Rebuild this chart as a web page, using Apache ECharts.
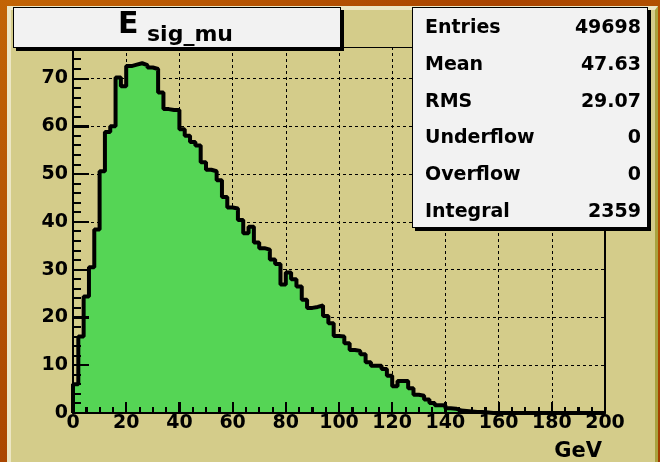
<!DOCTYPE html>
<html>
<head>
<meta charset="utf-8">
<script src="https://cdn.jsdelivr.net/npm/echarts@6/dist/echarts.min.js"></script>
<style>
  html, body { margin: 0; padding: 0; }
  #wrap {
    position: relative; width: 660px; height: 462px; overflow: hidden;
    background: linear-gradient(135deg, #c26405 0%, #a94400 45%, #b85a02 70%, #a13d00 100%);
    font-family: "DejaVu Sans", sans-serif; font-weight: bold; color: #000;
  }
  /* pad with bevelled border */
  #pad {
    position: absolute; left: 7px; top: 6px; width: 644px; height: 452px;
    background: #d4cc8a;
    border-left: 4px solid #ece6c4; border-top: 4px solid #ece6c4;
    border-right: 3px solid #a9a23e; border-bottom: 3px solid #a9a23e;
  }
  #chart { position: absolute; left: 0; top: 0; width: 660px; height: 462px; }
  .pave {
    position: absolute; box-sizing: border-box; background: #f2f2f2;
    border: 1px solid #000; box-shadow: 3px 3px 0 #000;
  }
  #titleBox { left: 13px; top: 7px; width: 328px; height: 41px; }
  #statsBox { left: 412px; top: 7px; width: 236px; height: 221px; }
  .txt { position: absolute; white-space: nowrap; }
  #tMain { left: 118px; top: 8px; font-size: 30px; line-height: 30px; }
  #tSub { left: 147px; top: 23px; font-size: 22px; line-height: 22px; }
  .statName, .statVal { font-size: 19px; line-height: 20px; height: 20px; }
  .statName { left: 425px; }
  .statVal { right: 19px; text-align: right; }
</style>
</head>
<body>
<div id="wrap">
  <div id="pad"></div>
  <div id="chart"></div>
  <div class="pave" id="titleBox"></div>
  <div class="txt" id="tMain"></div>
  <div class="txt" id="tSub"></div>
  <div class="pave" id="statsBox"></div>
</div>
<script>
// Histogram binning: 100 bins of 2 GeV from 0 to 200 GeV
const binLow = 0;
const binWidth = 2;
const counts = [
  6.0, 16.0, 24.4, 30.5, 38.4, 50.6, 58.8, 60.0, 70.2, 68.4,
  72.6, 72.9, 73.2, 72.8, 72.3, 72.0, 67.1, 63.6, 63.4, 63.4,
  59.4, 58.0, 56.7, 56.0, 52.5, 50.9, 50.6, 48.7, 45.2, 43.0,
  42.8, 40.4, 37.6, 39.0, 35.7, 34.5, 34.2, 32.1, 31.2, 26.9,
  29.4, 28.0, 26.5, 23.7, 22.0, 22.2, 22.5, 20.3, 18.8, 16.1,
  16.0, 14.6, 13.2, 13.0, 12.3, 10.6, 9.9, 9.9, 9.2, 7.8,
  5.6, 6.7, 6.7, 5.2, 3.8, 3.6, 2.8, 2.1, 1.6, 1.6,
  1.0, 0.9, 0.5, 0.4, 0.3, 0.2, 0.2, 0.1, 0, 0,
  0, 0, 0, 0, 0, 0, 0, 0, 0, 0,
  0, 0, 0, 0, 0, 0, 0, 0, 0, 0
];

// Axis ranges and tick spacing
const xMin = 0, xMax = 200, xMajor = 20, xMinor = 5;
const yMin = 0, yMax = 76.6, yMajor = 10, yMinor = 2;

// Title and statistics box contents
const titleMain = 'E';
const titleSub = 'sig_mu';
const xUnit = 'GeV';
const statNames = ['Entries', 'Mean', 'RMS', 'Underflow', 'Overflow', 'Integral'];
const statValues = ['49698', '47.63', '29.07', '0', '0', '2359'];

const FONT = 'DejaVu Sans';
const BLACK = '#000';

// Title text and statistics rows
document.getElementById('tMain').textContent = titleMain;
document.getElementById('tSub').textContent = titleSub;
const wrap = document.getElementById('wrap');
statNames.forEach((name, i) => {
  const top = Math.round(26 + i * 36.8 - 10);
  const n = document.createElement('div');
  n.className = 'txt statName';
  n.style.top = top + 'px';
  n.textContent = name;
  const v = document.createElement('div');
  v.className = 'txt statVal';
  v.style.top = top + 'px';
  v.textContent = statValues[i];
  wrap.appendChild(n);
  wrap.appendChild(v);
});

// Step outline: one point per bin low edge, closing at the last edge
const stepData = [[binLow, 0]];
counts.forEach((c, i) => stepData.push([binLow + i * binWidth, c]));
stepData.push([binLow + counts.length * binWidth, counts[counts.length - 1]]);

// Inward tick marks drawn over the filled histogram: [axis (0 = x, 1 = y), value, isMajor]
const tickMarks = [];
for (let v = xMin; v <= xMax; v += xMinor) tickMarks.push([0, v, v % xMajor === 0 ? 1 : 0]);
for (let v = yMin; v < yMax; v += yMinor) tickMarks.push([1, v, v % yMajor === 0 ? 1 : 0]);

const chart = echarts.init(document.getElementById('chart'), null, { renderer: 'canvas' });

const labelFont = { color: BLACK, fontFamily: FONT, fontWeight: 'bold', fontSize: 19 };
const dashed = { color: BLACK, width: 1, type: [3, 3] };
const hidden = { axisLabel: { show: false }, splitLine: { show: false } };

const option = {
  animation: false,
  backgroundColor: 'transparent',
  grid: { left: 73, right: 55, top: 47, bottom: 48 },
  xAxis: [
    { // labels and grid lines, beneath the histogram
      type: 'value', min: xMin, max: xMax, interval: xMajor, z: 0,
      axisLine: { show: false },
      axisTick: { show: false },
      axisLabel: Object.assign({ margin: 1 }, labelFont),
      splitLine: { show: true, lineStyle: dashed },
      name: xUnit, nameLocation: 'end', nameGap: -3,
      nameTextStyle: Object.assign({}, labelFont, { fontSize: 21, align: 'right',
                       verticalAlign: 'top', padding: [28, 0, 0, 0] })
    },
    Object.assign({ // bottom axis line with inward ticks
      type: 'value', min: xMin, max: xMax, interval: xMajor, z: 10, position: 'bottom',
      axisLine: { show: true, onZero: false, lineStyle: { color: BLACK, width: 2 } },
      axisTick: { show: true, inside: true, length: 11, lineStyle: { color: BLACK, width: 2 } },
      minorTick: { show: true, splitNumber: 4, length: 6, lineStyle: { color: BLACK, width: 2 } }
    }, hidden),
    Object.assign({ // top edge of the frame
      type: 'value', min: xMin, max: xMax, z: 10, position: 'top',
      axisLine: { show: true, onZero: false, lineStyle: { color: BLACK, width: 1 } },
      axisTick: { show: false }
    }, hidden)
  ],
  yAxis: [
    { // labels and grid lines
      type: 'value', min: yMin, max: yMax, interval: yMajor, position: 'left', z: 0,
      axisLine: { show: false },
      axisTick: { show: false },
      axisLabel: Object.assign({ margin: 5, showMaxLabel: false }, labelFont),
      splitLine: { show: true, lineStyle: dashed }
    },
    Object.assign({ // left axis line with inward major ticks
      type: 'value', min: yMin, max: yMax, interval: yMajor, position: 'left', offset: 0, z: 10,
      axisLine: { show: true, onZero: false, lineStyle: { color: BLACK, width: 2 } },
      axisTick: { show: true, inside: true, length: 16, lineStyle: { color: BLACK, width: 2 } }
    }, hidden),
    Object.assign({ // right edge of the frame
      type: 'value', min: yMin, max: yMax, position: 'right', offset: 0, z: 10,
      axisLine: { show: true, onZero: false, lineStyle: { color: BLACK, width: 2 } },
      axisTick: { show: false }
    }, hidden)
  ],
  series: [
    {
      type: 'line',
      data: stepData,
      step: 'end',
      symbol: 'none',
      z: 5,
      lineStyle: { color: BLACK, width: 4 },
      areaStyle: { color: '#55d555', opacity: 1 }
    },
    {
      type: 'custom',
      coordinateSystem: 'cartesian2d',
      xAxisIndex: 0, yAxisIndex: 0,
      z: 20, silent: true,
      encode: { x: 1, y: 1 },
      data: tickMarks,
      renderItem: function (params, api) {
        const onX = api.value(0) === 0;
        const v = api.value(1);
        const major = api.value(2) === 1;
        if (onX) {
          const p = api.coord([v, yMin]);
          const len = major ? 11 : 6;
          return { type: 'rect', shape: { x: Math.round(p[0]) - 1, y: p[1] - len, width: 2, height: len },
                   style: { fill: BLACK } };
        }
        const p = api.coord([xMin, v]);
        const len = major ? 16 : 8;
        return { type: 'rect', shape: { x: p[0], y: Math.round(p[1]) - 1, width: len, height: 2 },
                 style: { fill: BLACK } };
      }
    }
  ]
};

chart.setOption(option);
</script>
</body>
</html>
